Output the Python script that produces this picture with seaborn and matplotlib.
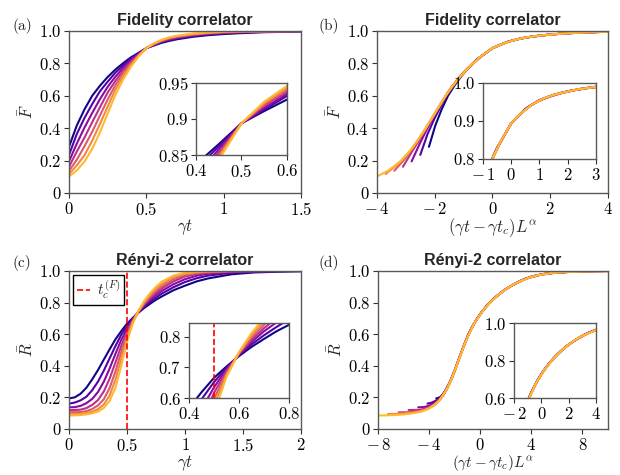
import numpy as np
import pandas as pd
import seaborn as sns
import matplotlib
matplotlib.use('Agg')
import matplotlib.pyplot as plt

# time grids
t_F = [0, 0.05, 0.1, 0.15, 0.2, 0.25, 0.3, 0.35, 0.4, 0.45, 0.5, 0.55, 0.6, 0.65, 0.7, 0.8, 0.9, 1.0, 1.1, 1.25, 1.5]
t_R = [0, 0.05, 0.1, 0.15, 0.2, 0.25, 0.3, 0.35, 0.4, 0.45, 0.5, 0.55, 0.6, 0.65, 0.7, 0.75, 0.8, 0.9, 1.0, 1.1, 1.2, 1.4, 1.6, 1.8, 2.0]

# fidelity correlator, smallest system (dark blue) to largest (yellow)
F_1 = [0.285, 0.416, 0.516, 0.600, 0.662, 0.716, 0.762, 0.801, 0.837, 0.865, 0.894, 0.911, 0.927, 0.939, 0.949, 0.964, 0.974, 0.981, 0.986, 0.992, 0.997]
F_2 = [0.235, 0.363, 0.463, 0.549, 0.628, 0.687, 0.743, 0.787, 0.830, 0.862, 0.894, 0.913, 0.932, 0.943, 0.955, 0.969, 0.978, 0.985, 0.990, 0.994, 0.998]
F_3 = [0.195, 0.304, 0.404, 0.494, 0.579, 0.655, 0.718, 0.772, 0.820, 0.858, 0.894, 0.915, 0.935, 0.948, 0.958, 0.972, 0.981, 0.988, 0.992, 0.996, 0.999]
F_4 = [0.162, 0.255, 0.342, 0.437, 0.529, 0.620, 0.692, 0.757, 0.810, 0.854, 0.894, 0.918, 0.938, 0.952, 0.962, 0.975, 0.985, 0.991, 0.994, 0.997, 0.999]
F_5 = [0.137, 0.205, 0.288, 0.378, 0.478, 0.577, 0.666, 0.741, 0.799, 0.850, 0.894, 0.920, 0.940, 0.956, 0.965, 0.979, 0.987, 0.992, 0.996, 0.998, 0.999]
F_6 = [0.117, 0.170, 0.233, 0.323, 0.426, 0.533, 0.639, 0.721, 0.789, 0.847, 0.894, 0.922, 0.943, 0.958, 0.968, 0.981, 0.990, 0.994, 0.997, 0.999, 1.000]
F_7 = [0.102, 0.139, 0.194, 0.273, 0.374, 0.490, 0.606, 0.701, 0.779, 0.843, 0.894, 0.924, 0.946, 0.961, 0.971, 0.984, 0.991, 0.996, 0.998, 0.999, 1.000]

# Renyi-2 correlator
R_1 = [0.193, 0.200, 0.223, 0.261, 0.314, 0.373, 0.439, 0.504, 0.567, 0.619, 0.666, 0.703, 0.737, 0.767, 0.793, 0.818, 0.839, 0.878, 0.907, 0.934, 0.953, 0.979, 0.991, 0.995, 0.998]
R_2 = [0.160, 0.167, 0.181, 0.204, 0.245, 0.300, 0.369, 0.447, 0.524, 0.596, 0.652, 0.699, 0.740, 0.775, 0.805, 0.832, 0.857, 0.897, 0.930, 0.954, 0.971, 0.989, 0.995, 0.999, 1.000]
R_3 = [0.137, 0.138, 0.146, 0.163, 0.190, 0.234, 0.299, 0.382, 0.475, 0.563, 0.635, 0.694, 0.742, 0.783, 0.818, 0.847, 0.874, 0.916, 0.948, 0.970, 0.983, 0.994, 0.998, 1.000, 1.000]
R_4 = [0.120, 0.120, 0.122, 0.132, 0.152, 0.183, 0.237, 0.318, 0.420, 0.525, 0.617, 0.688, 0.744, 0.790, 0.828, 0.861, 0.890, 0.934, 0.965, 0.981, 0.990, 0.997, 1.000, 1.000, 1.000]
R_5 = [0.106, 0.106, 0.107, 0.113, 0.126, 0.149, 0.188, 0.258, 0.363, 0.486, 0.598, 0.681, 0.746, 0.797, 0.839, 0.875, 0.903, 0.948, 0.974, 0.988, 0.994, 0.999, 1.000, 1.000, 1.000]
R_6 = [0.095, 0.095, 0.096, 0.101, 0.109, 0.125, 0.155, 0.211, 0.311, 0.443, 0.577, 0.675, 0.748, 0.805, 0.850, 0.888, 0.917, 0.962, 0.983, 0.992, 0.997, 1.000, 1.000, 1.000, 1.000]
R_7 = [0.085, 0.086, 0.088, 0.092, 0.099, 0.110, 0.133, 0.177, 0.260, 0.399, 0.551, 0.669, 0.750, 0.812, 0.861, 0.900, 0.932, 0.971, 0.989, 0.995, 0.998, 1.000, 1.000, 1.000, 1.000]

# scaling-collapse parameters: L^alpha per curve and critical times
scale_F = [4.4, 5.0, 5.6, 6.2, 6.8, 7.4, 8.0]
scale_R = [5.9, 7.07, 8.31, 9.6, 10.94, 12.35, 13.79]
tc_F = 0.5
tc_R = 0.584

F_curves = [F_1, F_2, F_3, F_4, F_5, F_6, F_7]
R_curves = [R_1, R_2, R_3, R_4, R_5, R_6, R_7]

rows = []
for i in range(7):
    for t, v in zip(t_F, F_curves[i]):
        rows.append(('F', i, t, v, (t - tc_F) * scale_F[i]))
    for t, v in zip(t_R, R_curves[i]):
        rows.append(('R', i, t, v, (t - tc_R) * scale_R[i]))
df = pd.DataFrame(rows, columns=['kind', 'curve', 't', 'val', 'xs'])
dF = df[df.kind == 'F']
dR = df[df.kind == 'R']

sns.set_style('ticks')
plt.rcParams.update({
    'font.family': 'serif', 'font.serif': ['cmr10'], 'mathtext.fontset': 'cm',
    'axes.formatter.use_mathtext': True, 'axes.edgecolor': '0.35',
    'xtick.color': '0.2', 'ytick.color': '0.2', 'xtick.labelcolor': 'black', 'ytick.labelcolor': 'black',
})
colors = [matplotlib.colors.to_hex(c) for c in plt.cm.plasma(np.linspace(0, 0.85, 7))]

fig = plt.figure(figsize=(6.2, 4.75), dpi=100)
ax_a = fig.add_axes([0.1113, 0.5937, 0.3742, 0.3411])
ax_b = fig.add_axes([0.608, 0.5937, 0.3726, 0.3411])
ax_c = fig.add_axes([0.1113, 0.097, 0.3742, 0.3325])
ax_d = fig.add_axes([0.6097, 0.097, 0.371, 0.3325])
in_a = fig.add_axes([0.3161, 0.6737, 0.1468, 0.1516])
in_b = fig.add_axes([0.779, 0.6653, 0.1823, 0.16])
in_c = fig.add_axes([0.3048, 0.1619, 0.1613, 0.1581])
in_d = fig.add_axes([0.829, 0.1619, 0.1323, 0.1581])


def draw(ax, data, x):
    sns.lineplot(data=data, x=x, y='val', hue='curve', palette=colors, legend=False,
                 estimator=None, sort=False, lw=1.5, ax=ax)
    ax.set_xlabel('')
    ax.set_ylabel('')


for ax in (ax_a, in_a):
    draw(ax, dF, 't')
for ax in (ax_b, in_b):
    draw(ax, dF, 'xs')
for ax in (ax_c, in_c):
    draw(ax, dR, 't')
for ax in (ax_d, in_d):
    draw(ax, dR, 'xs')


def ticks(ax, xt, xl, yt, yl, fs=12):
    ax.set_xticks(xt, ['$' + s.replace('-', r'-\,') + '$' for s in xl], fontsize=fs)
    ax.set_yticks(yt, ['$' + s + '$' for s in yl], fontsize=fs)
    ax.tick_params(direction='out', length=3.5, width=0.8, pad=2)
    for sp in ax.spines.values():
        sp.set_visible(True)
        sp.set_linewidth(1.0)


yt = [0, 0.2, 0.4, 0.6, 0.8, 1.0]
yl = ['0', '0.2', '0.4', '0.6', '0.8', '1.0']
ax_a.set(xlim=(0, 1.5), ylim=(0, 1))
ticks(ax_a, [0, 0.5, 1, 1.5], ['0', '0.5', '1', '1.5'], yt, yl)
ax_b.set(xlim=(-4, 4), ylim=(0, 1))
ticks(ax_b, [-4, -2, 0, 2, 4], ['-4', '-2', '0', '2', '4'], yt, yl)
ax_c.set(xlim=(0, 2), ylim=(0, 1))
ticks(ax_c, [0, 0.5, 1, 1.5, 2], ['0', '0.5', '1', '1.5', '2'], yt, yl)
ax_d.set(xlim=(-8, 10), ylim=(0, 1))
ticks(ax_d, [-8, -4, 0, 4, 8], ['-8', '-4', '0', '4', '8'], yt, yl)
in_a.set(xlim=(0.4, 0.6), ylim=(0.85, 0.95))
ticks(in_a, [0.4, 0.5, 0.6], ['0.4', '0.5', '0.6'], [0.85, 0.9, 0.95], ['0.85', '0.9', '0.95'])
in_b.set(xlim=(-1, 3), ylim=(0.8, 1.0))
ticks(in_b, [-1, 0, 1, 2, 3], ['-1', '0', '1', '2', '3'], [0.8, 0.9, 1.0], ['0.8', '0.9', '1.0'])
in_c.set(xlim=(0.4, 0.8), ylim=(0.6, 0.845))
ticks(in_c, [0.4, 0.6, 0.8], ['0.4', '0.6', '0.8'], [0.6, 0.7, 0.8], ['0.6', '0.7', '0.8'])
in_d.set(xlim=(-2, 4), ylim=(0.6, 1.0))
ticks(in_d, [-2, 0, 2, 4], ['-2', '0', '2', '4'], [0.6, 0.8, 1.0], ['0.6', '0.8', '1.0'])

tfont = dict(family='Liberation Sans', fontweight='bold', fontsize=11.5)
ax_a.set_title('Fidelity correlator', pad=4, **tfont)
ax_b.set_title('Fidelity correlator', pad=4, **tfont)
ax_c.set_title('Rényi-2 correlator', pad=4, **tfont)
ax_d.set_title('Rényi-2 correlator', pad=4, **tfont)

ax_a.set_xlabel(r'$\gamma t$', fontsize=12, labelpad=0)
ax_c.set_xlabel(r'$\gamma t$', fontsize=12, labelpad=0)
ax_b.set_xlabel(r'$(\gamma t-\gamma t_c)L^\alpha$', fontsize=12, labelpad=0)
ax_d.set_xlabel(r'$(\gamma t-\gamma t_c)L^\alpha$', fontsize=11, labelpad=0)
for ax in (ax_a, ax_b):
    ax.set_ylabel(r'$\bar{F}$', fontsize=12, labelpad=2)
for ax in (ax_c, ax_d):
    ax.set_ylabel(r'$\bar{R}$', fontsize=12, labelpad=2)

# fidelity critical time marked in the Renyi panel
ax_c.axvline(tc_F, color='red', ls='--', lw=1.2, label=r'$t_c^{(F)}$')
in_c.axvline(tc_F, color='red', ls='--', lw=1.2)
ax_c.legend(loc='upper left', fancybox=False, edgecolor='black', framealpha=1,
            handlelength=0.9, handletextpad=0.4, borderpad=0.25, fontsize=11, borderaxespad=0.25)

for lab, x, y in [('(a)', 0.02, 0.937), ('(b)', 0.513, 0.937), ('(c)', 0.02, 0.437), ('(d)', 0.513, 0.437)]:
    fig.text(x, y, lab, fontsize=11)

fig.savefig('out.png', dpi=100)
